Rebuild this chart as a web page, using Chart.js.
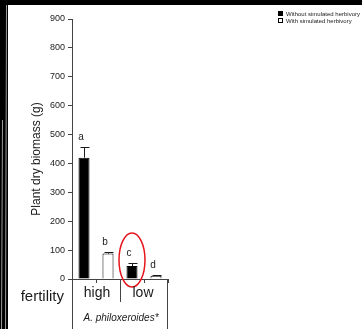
<!DOCTYPE html>
<html lang="en">
<head>
  <meta charset="UTF-8" />
  <title>Plant dry biomass</title>
  <script src="https://cdn.jsdelivr.net/npm/chart.js"></script>
  <style>
    html, body { margin: 0; padding: 0; background: #fff; }
    #wrap { position: relative; width: 362px; height: 329px; }
  </style>
</head>
<body>
  <div id="wrap">
    <canvas id="biomassChart" width="362" height="329"></canvas>
  </div>

  <script>
    // data
    const fertility = ['high', 'low'];
    const herbivory = ['Without simulated herbivory', 'With simulated herbivory'];
    const treatments = ['high', 'high', 'low', 'low'];
    const biomass = [420, 88, 45, 11];
    const errors = [36, 6, 10, 2];
    const letters = ['a', 'b', 'c', 'd'];
    const yTicks = [0, 100, 200, 300, 400, 500, 600, 700, 800, 900];
    const species = 'A. philoxeroides*';

    const FONT = '"Liberation Sans", Arial, sans-serif';
    const INK = '#1a1a1a';

    const extras = {
      id: 'extras',
      beforeDraw(chart) {
        const ctx = chart.ctx;
        ctx.save();
        // black frame bits of the scanned page
        ctx.fillStyle = '#000';
        ctx.fillRect(0, 0, chart.width, 5);
        ctx.fillRect(0, 0, 8, chart.height);
        ctx.strokeStyle = '#9a9a9a';
        ctx.lineWidth = 1;
        ctx.beginPath();
        ctx.moveTo(6.5, 5); ctx.lineTo(5.5, chart.height);
        ctx.moveTo(2.5, 120); ctx.lineTo(1.5, chart.height);
        ctx.stroke();
        ctx.restore();
      },
      afterDatasetsDraw(chart) {
        const ctx = chart.ctx;
        const x = chart.scales.x, y = chart.scales.y;
        const area = chart.chartArea;
        const meta = chart.getDatasetMeta(0);
        ctx.save();

        // error bars + letters
        ctx.strokeStyle = INK;
        ctx.lineWidth = 1;
        ctx.fillStyle = INK;
        ctx.font = '10px ' + FONT;
        ctx.textAlign = 'center';
        ctx.textBaseline = 'middle';
        meta.data.forEach((bar, i) => {
          const cx = Math.round(bar.x) + 0.5;
          const y0 = y.getPixelForValue(biomass[i]);
          const y1 = Math.round(y.getPixelForValue(biomass[i] + errors[i])) + 0.5;
          ctx.beginPath();
          ctx.moveTo(cx, y0);
          ctx.lineTo(cx, y1);
          ctx.moveTo(cx - 4, y1);
          ctx.lineTo(cx + 5, y1);
          ctx.stroke();
          ctx.fillText(letters[i], bar.x - 3, y1 - 10);
        });

        // red ellipse around bar c
        const c = meta.data[2];
        ctx.strokeStyle = '#e8141b';
        ctx.lineWidth = 1.5;
        ctx.beginPath();
        ctx.ellipse(c.x, area.bottom - 19, 13, 27, 0, 0, Math.PI * 2);
        ctx.stroke();

        // grouping lines under the axis
        const bottom = area.bottom;
        const mid = (x.getPixelForValue(1) + x.getPixelForValue(2)) / 2;
        ctx.strokeStyle = '#444';
        ctx.lineWidth = 1;
        ctx.beginPath();
        ctx.moveTo(Math.round(area.left) + 0.5, bottom);
        ctx.lineTo(Math.round(area.left) + 0.5, chart.height);
        ctx.moveTo(Math.round(mid) + 0.5, bottom);
        ctx.lineTo(Math.round(mid) + 0.5, bottom + 23);
        ctx.moveTo(Math.round(area.right) - 0.5, bottom);
        ctx.lineTo(Math.round(area.right) - 0.5, chart.height);
        ctx.stroke();

        ctx.fillStyle = INK;
        ctx.font = '14px ' + FONT;
        ctx.textAlign = 'center';
        ctx.fillText(fertility[0], (area.left + mid) / 2 + 1, bottom + 14);
        ctx.fillText(fertility[1], (mid + area.right) / 2 - 1, bottom + 14);
        ctx.font = '15px ' + FONT;
        ctx.textAlign = 'right';
        ctx.fillText('fertility', area.left - 8, bottom + 18);

        ctx.font = 'italic 10px ' + FONT;
        ctx.textAlign = 'center';
        ctx.fillText(species, (area.left + area.right) / 2 + 1, bottom + 39);

        // y axis title
        ctx.save();
        ctx.translate(37, 159);
        ctx.rotate(-Math.PI / 2);
        ctx.font = '12px ' + FONT;
        ctx.fillText('Plant dry biomass (g)', 0, 0);
        ctx.restore();

        // legend
        ctx.font = '6px ' + FONT;
        ctx.textAlign = 'left';
        herbivory.forEach((name, i) => {
          const ly = 14 + i * 7;
          ctx.fillStyle = i === 0 ? '#000' : '#fff';
          ctx.strokeStyle = '#000';
          ctx.fillRect(278, ly - 3, 5, 5);
          ctx.strokeRect(278.5, ly - 2.5, 4, 4);
          ctx.fillStyle = INK;
          ctx.fillText(name, 286, ly);
        });

        ctx.restore();
      }
    };

    new Chart(document.getElementById('biomassChart'), {
      type: 'bar',
      data: {
        labels: treatments,
        datasets: [{
          data: biomass,
          backgroundColor: biomass.map((v, i) => i % 2 === 0 ? '#000' : '#fff'),
          borderColor: '#000',
          borderWidth: 1,
          barPercentage: 0.46,
          categoryPercentage: 1
        }]
      },
      options: {
        responsive: false,
        animation: false,
        devicePixelRatio: 1,
        layout: { padding: { top: 19, right: 194, left: 0, bottom: 0 } },
        plugins: { legend: { display: false }, tooltip: { enabled: false } },
        scales: {
          x: {
            afterFit(scale) { scale.height = 50; },
            ticks: { display: false },
            grid: { drawOnChartArea: false, offset: true, tickLength: 4, color: '#444' },
            border: { color: '#444' }
          },
          y: {
            min: 0,
            max: 900,
            afterFit(scale) { scale.width = 72; },
            afterBuildTicks(scale) { scale.ticks = yTicks.map(v => ({ value: v })); },
            ticks: { color: INK, font: { family: FONT, size: 9 }, padding: 3 },
            grid: { drawOnChartArea: false, tickLength: 4, color: '#444' },
            border: { color: '#444' }
          }
        }
      },
      plugins: [extras]
    });
  </script>
</body>
</html>
